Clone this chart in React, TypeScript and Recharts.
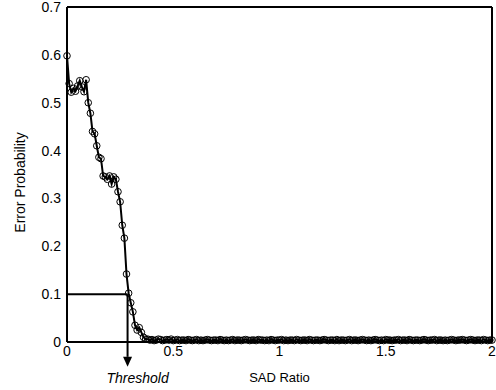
import { LineChart, Line, XAxis, YAxis, ReferenceLine, ReferenceDot } from "recharts";

// error probability sampled every 0.01 of SAD ratio, 0 .. 2
const SAD_STEP = 0.01;
const errorProbability = [
  0.598, 0.540, 0.522, 0.530, 0.524, 0.535, 0.546, 0.533, 0.523, 0.548,
  0.500, 0.478, 0.440, 0.435, 0.410, 0.386, 0.383, 0.347, 0.345, 0.340,
  0.347, 0.330, 0.345, 0.340, 0.314, 0.293, 0.244, 0.217, 0.142, 0.102,
  0.082, 0.063, 0.035, 0.025, 0.030, 0.020, 0.010, 0.006,
  0.006, 0.004, 0.005, 0.003, 0.004, 0.006, 0.005, 0.003, 0.004, 0.005,
  0.004, 0.006, 0.003, 0.004, 0.005, 0.003, 0.004, 0.004, 0.003, 0.005,
  0.004, 0.003, 0.004, 0.005, 0.003, 0.004, 0.003, 0.004, 0.005, 0.004,
  0.003, 0.004, 0.004, 0.003, 0.005, 0.004, 0.003, 0.004, 0.003, 0.004,
  0.005, 0.003, 0.004, 0.004, 0.003, 0.004, 0.005, 0.004, 0.003, 0.004,
  0.004, 0.003, 0.005, 0.004, 0.004, 0.003, 0.004, 0.003, 0.005, 0.004,
  0.003, 0.004, 0.004, 0.005, 0.003, 0.004, 0.003, 0.004, 0.004, 0.003,
  0.005, 0.004, 0.003, 0.004, 0.004, 0.003, 0.005, 0.004, 0.003, 0.004,
  0.004, 0.003, 0.004, 0.005, 0.004, 0.003, 0.004, 0.004, 0.003, 0.005,
  0.003, 0.004, 0.004, 0.003, 0.004, 0.005, 0.003, 0.004, 0.004, 0.003,
  0.004, 0.005, 0.004, 0.003, 0.004, 0.003, 0.004, 0.005, 0.004, 0.003,
  0.004, 0.003, 0.005, 0.004, 0.004, 0.003, 0.004, 0.004, 0.005, 0.003,
  0.004, 0.004, 0.003, 0.005, 0.004, 0.003, 0.004, 0.004, 0.003, 0.004,
  0.005, 0.004, 0.003, 0.004, 0.004, 0.005, 0.003, 0.004, 0.004, 0.003,
  0.004, 0.003, 0.004, 0.005, 0.004, 0.003, 0.004, 0.004, 0.005, 0.004,
  0.003, 0.004, 0.005, 0.004, 0.003, 0.004, 0.004, 0.003, 0.005, 0.004,
  0.003, 0.004, 0.004,
];
const sadRatio = errorProbability.map((_, i) => +(i * SAD_STEP).toFixed(2));

const xTicks = [0, 0.5, 1, 1.5, 2];
const yTicks = [0, 0.1, 0.2, 0.3, 0.4, 0.5, 0.6, 0.7];
const xMinorTicks = Array.from({ length: 41 }, (_, i) => +(i * 0.05).toFixed(2));
const yMinorTicks = Array.from({ length: 36 }, (_, i) => +(i * 0.02).toFixed(2));

const THRESHOLD = 0.285;
const THRESHOLD_ERROR = 0.1;
const ARROW_END = -0.031;

const data = sadRatio.map((x, i) => ({ x, p: errorProbability[i] }));

const FONT = "'Liberation Sans', Arial, Helvetica, sans-serif";
const fmt = (v: number) => String(v);

const ArrowHead = (props: any) => {
  const { cx, cy } = props;
  return (
    <g>
      <polygon points={`${cx - 4.5},${cy} ${cx + 4.5},${cy} ${cx},${cy + 10}`} fill="#000" />
      <text x={cx + 10} y={cy + 26} textAnchor="middle" fontStyle="italic" fontSize={14} fontFamily={FONT} fill="#000">
        Threshold
      </text>
    </g>
  );
};

export default function App() {
  const axisLine = { stroke: "#000", strokeWidth: 2 };
  const tickFont = { fontSize: 14, fontFamily: FONT, fill: "#000" };
  const major = { stroke: "#000", strokeWidth: 1 };
  const minor = { stroke: "#999", strokeWidth: 1 };
  return (
    <div style={{ position: "absolute", left: 0, top: 0, background: "#fff" }}>
      <LineChart width={496} height={390} data={data} margin={{ top: 7, right: 4, bottom: 0, left: 0 }}>
        {/* labelled axes */}
        <XAxis
          dataKey="x"
          type="number"
          domain={[0, 2]}
          ticks={xTicks}
          tickFormatter={fmt}
          height={48}
          axisLine={axisLine}
          tickLine={false}
          tickSize={0}
          tickMargin={4}
          tick={tickFont}
          interval={0}
          label={{
            content: ({ viewBox }: any) => (
              <text x={viewBox.x + viewBox.width / 2} y={viewBox.y + 40} textAnchor="middle" fontSize={13} fontFamily={FONT} fill="#000">
                SAD Ratio
              </text>
            ),
          }}
        />
        <YAxis
          type="number"
          domain={[0, 0.7]}
          ticks={yTicks}
          tickFormatter={fmt}
          width={67}
          axisLine={axisLine}
          tickLine={false}
          tickSize={0}
          tickMargin={6}
          tick={tickFont}
          interval={0}
          label={{
            content: ({ viewBox }: any) => {
              const x = viewBox.x + 20;
              const y = viewBox.y + viewBox.height / 2 + 8;
              return (
                <text x={x} y={y} transform={`rotate(-90, ${x}, ${y})`} textAnchor="middle" dominantBaseline="central" fontSize={14} fontFamily={FONT} fill="#000">
                  Error Probability
                </text>
              );
            },
          }}
        />

        {/* inward tick marks and the rest of the box */}
        <XAxis xAxisId="bIn" type="number" domain={[0, 2]} ticks={xTicks} interval={0} mirror orientation="bottom" tick={false} axisLine={false} tickLine={major} tickSize={5} height={1} />
        <XAxis xAxisId="bMin" type="number" domain={[0, 2]} ticks={xMinorTicks} interval={0} mirror orientation="bottom" tick={false} axisLine={false} tickLine={minor} tickSize={2} height={1} />
        <XAxis xAxisId="tIn" type="number" domain={[0, 2]} ticks={xTicks} interval={0} mirror orientation="top" tick={false} axisLine={axisLine} tickLine={major} tickSize={5} height={1} />
        <XAxis xAxisId="tMin" type="number" domain={[0, 2]} ticks={xMinorTicks} interval={0} mirror orientation="top" tick={false} axisLine={false} tickLine={minor} tickSize={2} height={1} />
        <YAxis yAxisId="lIn" type="number" domain={[0, 0.7]} ticks={yTicks} interval={0} mirror orientation="left" tick={false} axisLine={false} tickLine={major} tickSize={5} width={1} />
        <YAxis yAxisId="lMin" type="number" domain={[0, 0.7]} ticks={yMinorTicks} interval={0} mirror orientation="left" tick={false} axisLine={false} tickLine={minor} tickSize={2} width={1} />
        <YAxis yAxisId="rIn" type="number" domain={[0, 0.7]} ticks={yTicks} interval={0} mirror orientation="right" tick={false} axisLine={axisLine} tickLine={major} tickSize={5} width={1} />
        <YAxis yAxisId="rMin" type="number" domain={[0, 0.7]} ticks={yMinorTicks} interval={0} mirror orientation="right" tick={false} axisLine={false} tickLine={minor} tickSize={2} width={1} />

        <Line
          dataKey="p"
          type="linear"
          stroke="#000"
          strokeWidth={2}
          dot={{ r: 3.3, stroke: "#000", strokeWidth: 1, fill: "none" }}
          isAnimationActive={false}
        />

        {/* threshold marker */}
        <ReferenceLine
          segment={[{ x: 0, y: THRESHOLD_ERROR }, { x: THRESHOLD, y: THRESHOLD_ERROR }]}
          stroke="#000"
          strokeWidth={2}
        />
        <ReferenceLine
          segment={[{ x: THRESHOLD, y: THRESHOLD_ERROR }, { x: THRESHOLD, y: ARROW_END }]}
          stroke="#000"
          strokeWidth={2}
          ifOverflow="visible"
        />
        <ReferenceDot x={THRESHOLD} y={ARROW_END} ifOverflow="visible" shape={ArrowHead} />
      </LineChart>
    </div>
  );
}
